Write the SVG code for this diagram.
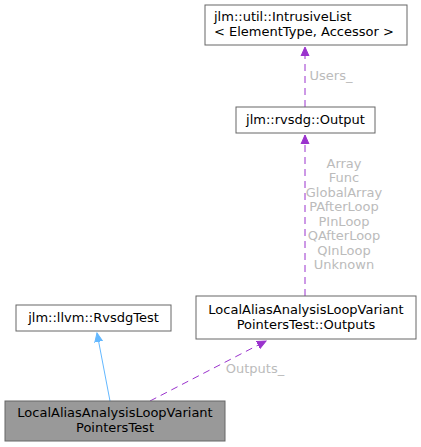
<svg xmlns="http://www.w3.org/2000/svg" width="421" height="447" viewBox="0 0 421 447">
<defs>
<style>
text{font-family:"DejaVu Sans","Liberation Sans",sans-serif;font-size:13px;}
.n{fill:#fff;stroke:#666;stroke-width:1;}
.t{fill:#000;text-anchor:middle;}
.l{fill:#bbb;text-anchor:middle;}
.p{fill:none;stroke:#9a32cd;stroke-dasharray:7,5;}
.b{fill:none;stroke:#63b8ff;}
</style>
<marker id="ap" markerWidth="10" markerHeight="10" refX="9" refY="5" orient="auto" markerUnits="userSpaceOnUse"><path d="M0,1 L9,5 L0,9 Z" fill="#9a32cd" stroke="#9a32cd"/></marker>
<marker id="ab" markerWidth="10" markerHeight="10" refX="9" refY="5" orient="auto" markerUnits="userSpaceOnUse"><path d="M0,1 L9,5 L0,9 Z" fill="#63b8ff" stroke="#63b8ff"/></marker>
</defs>
<g id="edges">
<path class="p" d="M305,107 L305,47" marker-end="url(#ap)"/>
<text class="l" x="331" y="80">Users_</text>
<path class="p" d="M305,296 L305,135" marker-end="url(#ap)"/>
<text class="l" x="344" y="168">Array</text>
<text class="l" x="344" y="182">Func</text>
<text class="l" x="344" y="197">GlobalArray</text>
<text class="l" x="344" y="211">PAfterLoop</text>
<text class="l" x="344" y="226">PInLoop</text>
<text class="l" x="344" y="240">QAfterLoop</text>
<text class="l" x="344" y="255">QInLoop</text>
<text class="l" x="344" y="269">Unknown</text>
<path class="p" d="M150,401 L266,341" marker-end="url(#ap)"/>
<text class="l" x="255" y="373">Outputs_</text>
<path class="b" d="M110,401 L97,333" marker-end="url(#ab)"/>
</g>
<g id="IntrusiveList">
<rect class="n" x="205" y="5" width="202" height="40"/>
<text x="214" y="21">jlm::util::IntrusiveList</text>
<text x="214" y="36">&lt; ElementType, Accessor &gt;</text>
</g>
<g id="Output">
<rect class="n" x="236" y="107" width="139" height="26"/>
<text class="t" x="305.5" y="124">jlm::rvsdg::Output</text>
</g>
<g id="Outputs">
<rect class="n" x="196" y="296" width="220" height="43"/>
<text class="t" x="306" y="314">LocalAliasAnalysisLoopVariant</text>
<text class="t" x="306" y="329">PointersTest::Outputs</text>
</g>
<g id="RvsdgTest">
<rect class="n" x="16" y="305" width="155" height="26"/>
<text class="t" x="93.5" y="322">jlm::llvm::RvsdgTest</text>
</g>
<g id="PointersTest">
<rect x="5" y="401" width="220" height="40" fill="#999" stroke="#666"/>
<text class="t" x="115" y="417">LocalAliasAnalysisLoopVariant</text>
<text class="t" x="115" y="432">PointersTest</text>
</g>
</svg>
